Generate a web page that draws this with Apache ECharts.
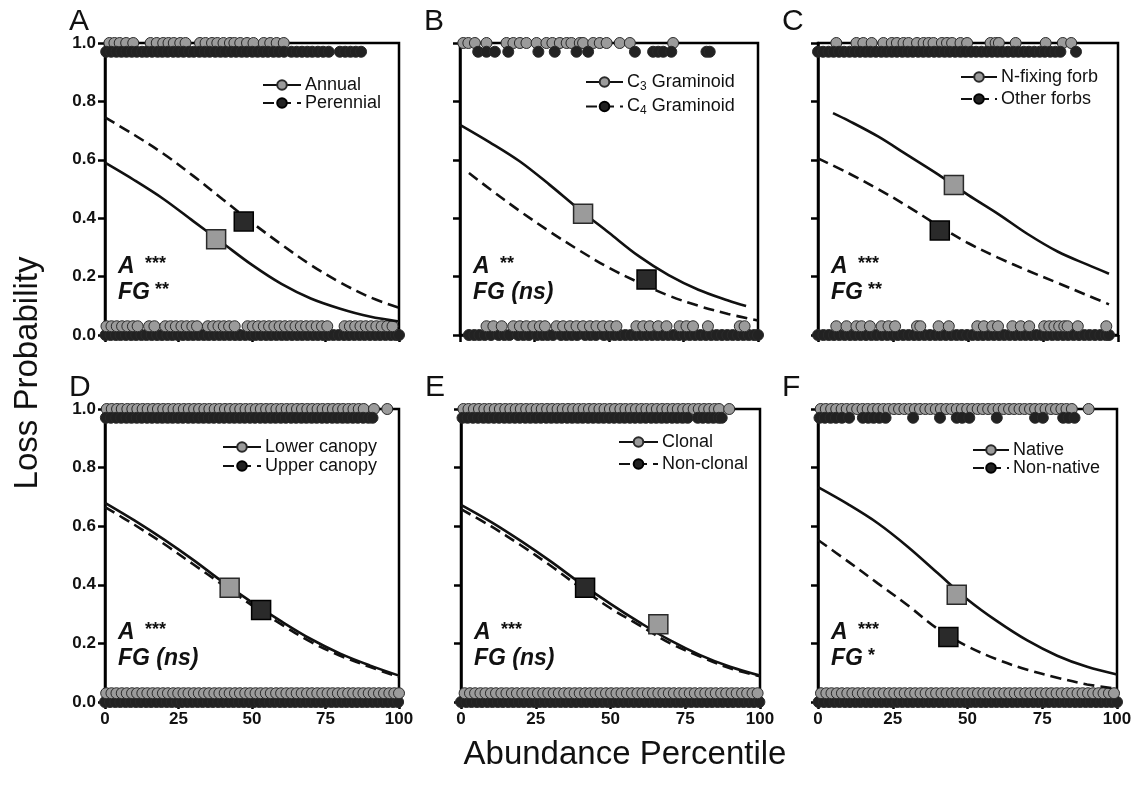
<!DOCTYPE html>
<html>
<head>
<meta charset="utf-8">
<script src="https://cdn.jsdelivr.net/npm/echarts@6/dist/echarts.min.js"></script>
<style>html,body{margin:0;padding:0;background:#fff;}#chart{width:1135px;height:785px;}</style>
</head>
<body>
<div id="chart"></div>
<script>
// ---------------- DATA ----------------
const xTicks = [0, 25, 50, 75, 100];
const yTicks = [0, 0.2, 0.4, 0.6, 0.8, 1.0];
const TOP_GRAY_Y = 1.0, TOP_BLACK_Y = 0.97, BOT_GRAY_Y = 0.03, BOT_BLACK_Y = 0.0;

const curveX = [0, 10, 20, 30, 40, 50, 60, 70, 80, 90, 100];
// Panel A
const aNames = ['Annual', 'Perennial'];
const aSolid = [0.59, 0.53, 0.465, 0.39, 0.315, 0.24, 0.175, 0.125, 0.09, 0.063, 0.046];
const aDashed = [0.745, 0.685, 0.62, 0.545, 0.465, 0.385, 0.31, 0.24, 0.18, 0.13, 0.093];
const aSquares = [[37.8, 0.328], [47.2, 0.389]];
const aTopGray = [1.5,3.2,5.0,7.2,9.6,15.5,17.6,19.8,21.6,23.4,25.6,27.4,32.3,34.2,36.4,38.2,40.3,42.5,44.0,46.0,48.3,50.5,54.0,56.2,58.4,60.8];
const aTopBlack = [0.4,2.1,3.9,5.6,7.3,9.1,10.8,12.6,14.2,16.0,17.9,19.5,21.3,23.2,24.9,26.7,28.6,30.2,32.1,33.9,35.6,37.5,39.3,41.0,42.9,44.6,46.5,48.2,50.1,51.9,53.7,55.4,57.3,59.1,60.9,63.4,65.2,67.0,68.8,70.5,72.4,74.2,76.1,79.9,81.7,83.5,85.3,87.1];
const aBotGray = [0.5,2.2,4.0,5.8,7.6,9.5,11.1,15.0,16.8,20.5,22.3,24.1,26.0,27.8,29.7,31.3,35.0,36.8,38.6,40.4,42.2,44.1,48.5,50.3,52.1,54.0,55.8,57.6,59.4,61.2,63.0,64.8,66.6,68.4,70.2,72.0,73.8,75.6,81.5,83.3,85.1,86.9,88.7,90.5,92.3,94.1,96.0,97.8];
const aBotBlack = [0.2,1.9,3.7,5.3,7.1,8.9,10.6,12.4,14.1,15.9,17.7,19.4,21.2,22.9,24.8,26.5,28.3,30.0,31.8,33.6,35.3,37.1,38.9,40.6,42.4,44.2,45.9,47.7,49.5,51.2,53.0,54.8,56.5,58.3,60.1,61.8,63.6,65.4,67.1,68.9,70.7,72.4,74.2,76.0,77.7,79.5,81.3,83.0,84.8,86.6,88.3,90.1,91.9,93.6,95.4,97.2,98.9,100];

// Panel B
const bNames = ['C3 Graminoid', 'C4 Graminoid'];
const bSolidX = [0, 10, 20, 30, 40, 50, 60, 70, 80, 90, 96];
const bSolid = [0.72, 0.66, 0.595, 0.515, 0.43, 0.35, 0.27, 0.205, 0.155, 0.118, 0.099];
const bDashedX = [3, 10, 20, 30, 40, 50, 60, 70, 80, 90, 100];
const bDashed = [0.555, 0.5, 0.425, 0.355, 0.29, 0.23, 0.18, 0.135, 0.1, 0.072, 0.05];
const bSquares = [[41.3, 0.415], [62.6, 0.19]];
const bTopGray = [1.1,2.8,5.0,8.9,15.6,17.9,20.1,22.3,25.7,29.0,31.0,33.5,35.8,37.4,40.2,41.3,44.7,46.9,49.2,53.6,57.0,71.5];
const bTopBlack = [6.1,8.9,11.7,16.2,26.3,31.8,39.1,43.0,58.7,64.8,66.5,68.2,70.9,82.7,83.8];
const bBotGray = [8.9,11.2,14.0,17.9,20.1,22.3,24.6,26.8,28.5,32.4,34.6,36.9,39.1,41.3,43.6,45.8,48.0,50.3,52.5,59.2,61.5,63.7,66.5,69.3,73.7,76.0,78.2,83.2,93.9,95.5];
const bBotBlack = [3.0,4.8,6.5,8.3,10.4,13.0,14.9,16.6,19.5,21.3,23.1,25.9,27.7,29.4,31.2,33.9,35.7,37.5,39.3,42.0,43.8,45.6,48.3,50.1,51.9,53.7,55.5,57.3,59.1,60.9,62.7,64.5,66.3,68.1,69.9,71.7,73.5,75.3,77.1,78.9,80.7,82.5,84.3,86.1,87.9,89.7,91.5,93.3,95.1,96.9,98.7,100];

// Panel C
const cNames = ['N-fixing forb', 'Other forbs'];
const cSolidX = [5, 10, 20, 30, 40, 50, 60, 70, 80, 90, 97];
const cSolid = [0.76, 0.735, 0.68, 0.615, 0.55, 0.48, 0.415, 0.345, 0.285, 0.24, 0.21];
const cDashedX = [0, 10, 20, 30, 40, 50, 60, 70, 80, 90, 97];
const cDashed = [0.605, 0.555, 0.5, 0.44, 0.375, 0.315, 0.265, 0.22, 0.178, 0.135, 0.105];
const cSquares = [[45.3, 0.514], [40.6, 0.358]];
const cTopGray = [6.1,12.8,15.1,17.9,21.8,24.6,26.3,28.5,30.2,33.0,35.2,36.9,38.5,41.3,43.0,44.7,47.5,49.7,57.5,59.2,60.3,65.9,75.9,81.6,84.4];
const cTopBlack = [0.0,1.7,3.5,5.2,7.0,8.7,10.5,12.3,14.0,15.8,17.5,19.3,21.1,22.8,24.6,26.3,28.1,29.9,31.6,33.4,35.1,36.9,38.7,40.4,42.2,43.9,45.7,47.5,49.2,51.0,52.7,54.5,56.3,58.0,59.8,61.5,63.3,65.1,66.8,68.6,70.3,72.1,73.9,75.6,77.4,79.1,80.8,86.0];
const cBotGray = [6.1,9.5,12.8,14.5,17.3,21.2,23.5,25.7,33.0,34.1,40.2,43.6,53.1,55.3,58.1,60.0,64.8,67.6,70.4,75.4,77.1,78.8,80.4,82.1,83.2,86.6,96.1];
const cBotBlack = [0.0,1.8,3.6,5.3,7.1,8.9,10.7,12.4,14.2,16.0,17.8,19.5,21.3,23.1,24.9,26.6,28.4,30.2,32.0,33.7,35.5,37.3,39.1,40.8,42.6,44.4,46.2,47.9,49.7,51.5,53.3,55.0,56.8,58.6,60.4,62.1,63.9,65.7,67.5,69.2,71.0,72.8,74.6,76.3,78.1,79.9,81.7,83.4,85.2,87.0,88.8,90.5,92.3,94.1,95.9,97.0];

// Panel D
const dNames = ['Lower canopy', 'Upper canopy'];
const dSolid = [0.68, 0.62, 0.555, 0.485, 0.41, 0.34, 0.275, 0.215, 0.165, 0.125, 0.09];
const dDashed = [0.665, 0.605, 0.54, 0.47, 0.4, 0.33, 0.265, 0.205, 0.158, 0.12, 0.085];
const dSquares = [[42.4, 0.39], [53.1, 0.314]];
const dTopGray = [0.6,2.3,4.1,5.7,7.6,9.3,11.0,12.8,14.5,16.3,18.0,19.8,21.5,23.3,25.0,26.8,28.5,30.3,32.0,33.8,35.5,37.3,39.0,40.8,42.5,44.3,46.0,47.8,49.5,51.3,53.0,54.8,56.5,58.3,60.0,61.8,63.5,65.3,67.0,68.8,70.5,72.3,74.0,75.8,77.5,79.3,81.0,82.8,84.5,86.3,88.0,91.5,96.0];
const dTopBlack = [0.3,2.0,3.8,5.5,7.3,9.0,10.8,12.5,14.3,16.0,17.8,19.5,21.3,23.0,24.8,26.5,28.3,30.0,31.8,33.5,35.3,37.0,38.8,40.5,42.3,44.0,45.8,47.5,49.3,51.0,52.8,54.5,56.3,58.0,59.8,61.5,63.3,65.0,66.8,68.5,70.3,72.0,73.8,75.5,77.3,79.0,80.8,82.5,84.3,86.0,87.8,89.6,91.0];
const dBotGray = [0.4,2.2,3.9,5.7,7.4,9.2,10.9,12.7,14.4,16.2,17.9,19.7,21.4,23.2,24.9,26.7,28.4,30.2,31.9,33.7,35.4,37.2,38.9,40.7,42.4,44.2,45.9,47.7,49.4,51.2,52.9,54.7,56.4,58.2,59.9,61.7,63.4,65.2,66.9,68.7,70.4,72.2,73.9,75.7,77.4,79.2,80.9,82.7,84.4,86.2,87.9,89.7,91.4,93.2,94.9,96.7,98.4,100];
const dBotBlack = [0.0,1.7,3.5,5.2,7.0,8.7,10.5,12.2,14.0,15.7,17.5,19.2,21.0,22.7,24.5,26.2,28.0,29.7,31.5,33.2,35.0,36.7,38.5,40.2,42.0,43.7,45.5,47.2,49.0,50.7,52.5,54.2,56.0,57.7,59.5,61.2,63.0,64.7,66.5,68.2,70.0,71.7,73.5,75.2,77.0,78.7,80.5,82.2,84.0,85.7,87.5,89.2,91.0,92.7,94.5,96.2,98.0,99.7];

// Panel E
const eNames = ['Clonal', 'Non-clonal'];
const eSolid = [0.673, 0.615, 0.55, 0.48, 0.405, 0.335, 0.27, 0.21, 0.16, 0.12, 0.09];
const eDashed = [0.658, 0.6, 0.535, 0.465, 0.39, 0.32, 0.26, 0.2, 0.155, 0.115, 0.088];
const eSquares = [[66.0, 0.265], [41.5, 0.39]];
const eTopGray = [0.8,2.5,4.3,6.0,7.8,9.5,11.3,13.0,14.8,16.5,18.3,20.0,21.8,23.5,25.3,27.0,28.8,30.5,32.3,34.0,35.8,37.5,39.3,41.0,42.8,44.5,46.3,48.0,49.8,51.5,53.3,55.0,56.8,58.5,60.3,62.0,63.8,65.5,67.3,69.0,70.8,72.5,74.3,76.0,77.8,79.5,81.3,83.0,84.8,86.3,89.7];
const eTopBlack = [0.5,2.2,4.0,5.7,7.5,9.2,11.0,12.7,14.5,16.2,18.0,19.7,21.5,23.2,25.0,26.7,28.5,30.2,32.0,33.7,35.5,37.2,39.0,40.7,42.5,44.2,46.0,47.7,49.5,51.2,53.0,54.7,56.5,58.2,60.0,61.8,63.6,65.3,67.1,68.8,70.6,72.3,74.1,75.8,79.2,80.9,82.7,84.4,86.2,87.2];
const eBotGray = [1.2,3.0,4.7,6.5,8.2,10.0,11.7,13.5,15.2,17.0,18.7,20.5,22.2,24.0,25.7,27.5,29.2,31.0,32.7,34.5,36.2,38.0,39.7,41.5,43.2,45.0,46.7,48.5,50.2,52.0,53.7,55.5,57.2,59.0,60.7,62.5,64.2,66.0,67.7,69.5,71.2,73.0,74.7,76.5,78.2,80.0,81.7,83.5,85.2,87.0,88.7,90.5,92.2,94.0,95.7,97.5,99.2];
const eBotBlack = [0.0,1.8,3.5,5.3,7.0,8.8,10.5,12.3,14.0,15.8,17.5,19.3,21.0,22.8,24.5,26.3,28.0,29.8,31.5,33.3,35.0,36.8,38.5,40.3,42.0,43.8,45.5,47.3,49.0,50.8,52.5,54.3,56.0,57.8,59.5,61.3,63.0,64.8,66.5,68.3,70.0,71.8,73.5,75.3,77.0,78.8,80.5,82.3,84.0,85.8,87.5,89.3,91.0,92.8,94.5,96.3,98.0,99.8];

// Panel F
const fNames = ['Native', 'Non-native'];
const fSolid = [0.733, 0.675, 0.61, 0.53, 0.44, 0.35, 0.275, 0.21, 0.158, 0.12, 0.094];
const fDashed = [0.553, 0.48, 0.405, 0.33, 0.25, 0.19, 0.145, 0.11, 0.083, 0.06, 0.045];
const fSquares = [[46.4, 0.366], [43.6, 0.222]];
const fTopGray = [0.9,2.6,4.4,6.1,7.9,9.6,11.4,13.1,14.9,16.6,18.4,20.1,21.9,23.6,25.4,27.1,28.9,30.6,32.4,34.1,35.9,37.6,39.4,41.1,42.9,44.6,46.4,48.1,49.9,51.6,53.4,55.1,56.9,58.6,60.4,62.1,63.9,65.6,67.4,69.1,70.9,72.6,74.4,76.1,77.9,79.6,81.4,83.1,84.9,90.5];
const fTopBlack = [0.5,2.3,4.2,6.0,8.0,10.4,15.0,16.8,18.6,20.5,22.6,31.8,40.8,46.4,48.2,50.6,59.8,72.6,75.2,82.0,83.8,85.8];
const fBotGray = [1.0,2.8,4.5,6.3,8.0,9.8,11.5,13.3,15.0,16.8,18.5,20.3,22.0,23.8,25.5,27.3,29.0,30.8,32.5,34.3,36.0,37.8,39.5,41.3,43.0,44.8,46.5,48.3,50.0,51.8,53.5,55.3,57.0,58.8,60.5,62.3,64.0,65.8,67.5,69.3,71.0,72.8,74.5,76.3,78.0,79.8,81.5,83.3,85.0,86.8,88.5,90.3,92.0,93.8,95.5,97.3,99.0];
const fBotBlack = [0.2,2.0,3.7,5.5,7.2,9.0,10.7,12.5,14.2,16.0,17.7,19.5,21.2,23.0,24.7,26.5,28.2,30.0,31.7,33.5,35.2,37.0,38.7,40.5,42.2,44.0,45.7,47.5,49.2,51.0,52.7,54.5,56.2,58.0,59.7,61.5,63.2,65.0,66.7,68.5,70.2,72.0,73.7,75.5,77.2,79.0,80.7,82.5,84.2,86.0,87.7,89.5,91.2,93.0,94.7,96.5,98.2,100];

const panelLetters = ['A', 'B', 'C', 'D', 'E', 'F'];
const annotations = [
  ['***', 'FG', '**'], ['**', 'FG (ns)', ''], ['***', 'FG', '**'],
  ['***', 'FG (ns)', ''], ['***', 'FG (ns)', ''], ['***', 'FG', '*']
];
const yTitle = 'Loss Probability';
const xTitle = 'Abundance Percentile';

// ---------------- LAYOUT / STYLE ----------------
const FONT = '"Liberation Sans", Arial, Helvetica, sans-serif';
const GRAY = '#9b9b9b', DARK = '#222222', EDGE = '#2a2a2a', INK = '#111';

const panels = [
  { grid: {left: 105, top: 43, width: 294, height: 292}, names: aNames,
    solid: [curveX, aSolid], dashed: [curveX, aDashed], squares: aSquares,
    pts: [aTopGray, aTopBlack, aBotGray, aBotBlack], legend: {left: 262, top: 76, gap: 0, w: 38} },
  { grid: {left: 460, top: 43, width: 298, height: 292}, names: bNames,
    solid: [bSolidX, bSolid], dashed: [bDashedX, bDashed], squares: bSquares,
    pts: [bTopGray, bTopBlack, bBotGray, bBotBlack], legend: {left: 585, top: 73, gap: 5, w: 37} },
  { grid: {left: 818, top: 43, width: 300, height: 292}, names: cNames,
    solid: [cSolidX, cSolid], dashed: [cDashedX, cDashed], squares: cSquares,
    pts: [cTopGray, cTopBlack, cBotGray, cBotBlack], legend: {left: 960, top: 68, gap: 4, w: 36} },
  { grid: {left: 105, top: 409, width: 294, height: 293}, names: dNames,
    solid: [curveX, dSolid], dashed: [curveX, dDashed], squares: dSquares,
    pts: [dTopGray, dTopBlack, dBotGray, dBotBlack], legend: {left: 222, top: 438, gap: 1, w: 38} },
  { grid: {left: 461, top: 409, width: 299, height: 293}, names: eNames,
    solid: [curveX, eSolid], dashed: [curveX, eDashed], squares: eSquares,
    pts: [eTopGray, eTopBlack, eBotGray, eBotBlack], legend: {left: 618, top: 433, gap: 4, w: 39} },
  { grid: {left: 818, top: 409, width: 299, height: 293}, names: fNames,
    solid: [curveX, fSolid], dashed: [curveX, fDashed], squares: fSquares,
    pts: [fTopGray, fTopBlack, fBotGray, fBotBlack], legend: {left: 972, top: 441, gap: 0, w: 36} }
];

const grids = [], xAxes = [], yAxes = [], series = [], legends = [], graphics = [];
const zip = (xs, ys) => xs.map((x, i) => [x, ys[i]]);

panels.forEach((p, i) => {
  const bottomRow = i >= 3, leftCol = i % 3 === 0;
  grids.push(Object.assign({show: true, borderColor: '#000', borderWidth: 2.5, backgroundColor: 'transparent'}, p.grid));
  const axisLine = {show: true, onZero: false, lineStyle: {color: '#000', width: 2.5}};
  const axisTick = {show: true, length: 7, inside: false, lineStyle: {color: '#000', width: 2.5}};
  xAxes.push({gridIndex: i, type: 'value', min: xTicks[0], max: xTicks[xTicks.length - 1], interval: 25,
    axisLine, axisTick, splitLine: {show: false},
    axisLabel: {show: bottomRow, fontFamily: FONT, fontSize: 17, fontWeight: 'bold', color: INK, margin: 9}});
  yAxes.push({gridIndex: i, type: 'value', min: yTicks[0], max: yTicks[yTicks.length - 1], interval: 0.2,
    axisLine, axisTick, splitLine: {show: false},
    axisLabel: {show: leftCol, fontFamily: FONT, fontSize: 17, fontWeight: 'bold', color: INK, margin: 9,
      formatter: v => v.toFixed(1)}});

  const ptStyle = (fill) => ({color: fill, borderColor: EDGE, borderWidth: 1, opacity: 1});
  const scat = (xs, y, fill, z) => ({type: 'scatter', xAxisIndex: i, yAxisIndex: i, silent: true, clip: false,
    symbol: 'circle', symbolSize: 11, itemStyle: ptStyle(fill), z,
    data: xs.map(x => [x, y])});
  const [tg, tb, bg, bb] = p.pts;
  series.push(scat(bb, BOT_BLACK_Y, DARK, 2));
  series.push(scat(tg, TOP_GRAY_Y, GRAY, 2));
  series.push(scat(bg, BOT_GRAY_Y, GRAY, 3));
  series.push(scat(tb, TOP_BLACK_Y, DARK, 3));

  series.push({type: 'line', name: p.names[0], xAxisIndex: i, yAxisIndex: i, silent: true,
    data: zip(p.solid[0], p.solid[1]), smooth: 0.35, showSymbol: false, symbol: 'circle',
    itemStyle: {color: GRAY, borderColor: EDGE, borderWidth: 1},
    lineStyle: {color: INK, width: 2.6, type: 'solid'}, z: 4});
  series.push({type: 'line', name: p.names[1], xAxisIndex: i, yAxisIndex: i, silent: true,
    data: zip(p.dashed[0], p.dashed[1]), smooth: 0.35, showSymbol: false, symbol: 'circle',
    itemStyle: {color: DARK, borderColor: '#000', borderWidth: 1},
    lineStyle: {color: INK, width: 2.6, type: [11, 6]}, z: 4});
  series.push({type: 'scatter', xAxisIndex: i, yAxisIndex: i, silent: true, clip: false, symbol: 'rect', symbolSize: 19, z: 5,
    data: [
      {value: p.squares[0], itemStyle: {color: GRAY, borderColor: EDGE, borderWidth: 1.5, opacity: 1}},
      {value: p.squares[1], itemStyle: {color: '#2a2a2a', borderColor: '#000', borderWidth: 1.5, opacity: 1}}
    ]});

  legends.push({data: p.names, orient: 'vertical', left: p.legend.left, top: p.legend.top,
    itemWidth: p.legend.w, itemHeight: 12, itemGap: p.legend.gap, padding: 0, selectedMode: false,
    formatter: n => n.replace(/^C(\d)/, 'C{sub|$1}'),
    textStyle: {fontFamily: FONT, fontSize: 18, color: INK, padding: [0, 0, 0, -1],
      rich: {sub: {fontFamily: FONT, fontSize: 12, color: INK, padding: [9, 0, 0, 0]}}}});

  // panel letter
  const gl = p.grid.left, gt = p.grid.top;
  graphics.push({type: 'text', x: gl - 36, y: gt - 21, silent: true,
    style: {text: panelLetters[i], font: '30px ' + FONT, fill: INK, align: 'left', verticalAlign: 'middle'}});
  // annotations
  const ann = annotations[i];
  const ax = gl + 13, ay1 = gt + 224, ay2 = gt + 250;
  const bi = 'italic bold 23px ' + FONT;
  graphics.push({type: 'text', x: ax, y: ay1, silent: true, style: {text: 'A', font: bi, fill: INK, align: 'left', verticalAlign: 'middle'}});
  graphics.push({type: 'text', x: ax + 27, y: ay1 - 3, silent: true, style: {text: ann[0], font: 'bold 18px ' + FONT, fill: INK, align: 'left', verticalAlign: 'middle'}});
  graphics.push({type: 'text', x: ax, y: ay2, silent: true, style: {text: ann[1], font: bi, fill: INK, align: 'left', verticalAlign: 'middle'}});
  if (ann[2]) graphics.push({type: 'text', x: ax + 37, y: ay2 - 3, silent: true, style: {text: ann[2], font: 'bold 18px ' + FONT, fill: INK, align: 'left', verticalAlign: 'middle'}});
});

graphics.push({type: 'text', x: 28, y: 373, rotation: Math.PI / 2, silent: true,
  style: {text: yTitle, font: '33px ' + FONT, fill: INK, align: 'center', verticalAlign: 'middle'}});
graphics.push({type: 'text', x: 625, y: 755, silent: true,
  style: {text: xTitle, font: '33px ' + FONT, fill: INK, align: 'center', verticalAlign: 'middle'}});

const chart = echarts.init(document.getElementById('chart'), null, {renderer: 'canvas'});
chart.setOption({
  backgroundColor: '#fff',
  animation: false,
  grid: grids, xAxis: xAxes, yAxis: yAxes, legend: legends, series, graphic: graphics
});
</script>
</body>
</html>
